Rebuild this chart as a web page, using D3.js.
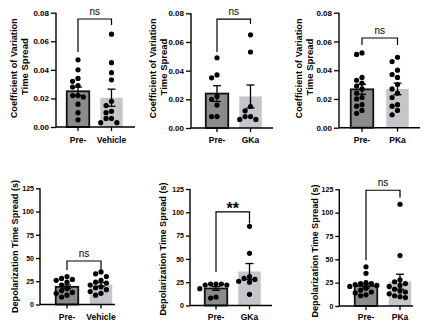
<!DOCTYPE html>
<html><head><meta charset="utf-8">
<script src="https://cdn.jsdelivr.net/npm/d3@7"></script>
<style>
html,body{margin:0;padding:0;background:#fff;}
svg{display:block;font-family:"Liberation Sans",Arial,sans-serif;}
</style></head>
<body><svg id="c" width="424" height="328"></svg>
<script>
// ---------- data ----------
const categories = [["Pre-","Vehicle"],["Pre-","GKa"],["Pre-","PKa"],["Pre-","Vehicle"],["Pre-","GKa"],["Pre-","PKa"]];
const cvTicks = [0, 0.02, 0.04, 0.06, 0.08];
const depTicks = [0, 25, 50, 75, 100, 125];
const cvTitle = ["Coefficient of Variation", "Time Spread"];
const depTitle = ["Depolarization Time Spread (s)"];

const cvPreA = [0.047, 0.040, 0.034, 0.032, 0.029, 0.028, 0.022, 0.022, 0.021, 0.016, 0.010, 0.005];
const cvVehicle = [0.065, 0.045, 0.038, 0.033, 0.018, 0.015, 0.011, 0.010, 0.006, 0.006, 0.003, 0.003];
const cvPreB = [0.049, 0.037, 0.035, 0.022, 0.020, 0.016, 0.008, 0.008];
const cvGKa = [0.065, 0.053, 0.015, 0.012, 0.008, 0.008, 0.006, 0.006];
const cvPreC = [0.052, 0.051, 0.035, 0.033, 0.031, 0.029, 0.027, 0.024, 0.021, 0.020, 0.016, 0.015, 0.012, 0.010];
const cvPKa = [0.049, 0.046, 0.040, 0.037, 0.035, 0.030, 0.027, 0.024, 0.021, 0.016, 0.015, 0.012, 0.009];

const depPreA = [30, 28, 27, 26, 24, 21, 17, 15, 13, 12, 10, 8];
const depVehicle = [35, 33, 30, 26, 24, 23, 21, 19, 18, 16, 14, 12, 10];
const depPreB = [23, 23, 23, 22, 22, 18, 9, 8];
const depGKa = [85, 56, 31, 29, 28, 26, 25, 12];
const depPreC = [42, 35, 25, 24, 24, 23, 22, 21, 19, 17, 15, 14, 12, 11];
const depPKa = [109, 54, 28, 26, 24, 22, 21, 18, 16, 15, 13, 11, 10, 9];

const barMeans = [[0.025, 0.0205], [0.024, 0.022], [0.0267, 0.027], [19, 21.5], [18.3, 36.5], [21.5, 26]];
const barSEM = [[0.003, 0.006], [0.0055, 0.008], [0.0035, 0.004], [2, 2], [2, 8.5], [2.2, 8]];
const sigLabels = ["ns", "ns", "ns", "ns", "**", "ns"];
const bracketTop = [0.0756, 0.076, 0.0624, 46.8, 100.5, 124];
const bracketLegEnd = [[0.0525, 0.0714], [0.053, 0.0725], [0.0575, 0.0575], [37, 37], [36, 88], [49, 116]];

const points = [[cvPreA, cvVehicle], [cvPreB, cvGKa], [cvPreC, cvPKa], [depPreA, depVehicle], [depPreB, depGKa], [depPreC, depPKa]];

// ---------- layout ----------
const layout = [
  {ax: 56, xEnd: 135, yTop: 12.7, yBot: 127, c: [78, 111.5], titleX: [16.7, 27.5], titleY: [68.3, 66.7], catY: 143},
  {ax: 191, xEnd: 273, yTop: 13.3, yBot: 128, c: [217, 250.5], titleX: [156, 167], titleY: [68.5, 67], catY: 143},
  {ax: 339, xEnd: 420, yTop: 12.7, yBot: 127.7, c: [362, 397.5], titleX: [301.5, 312.5], titleY: [68.5, 67], catY: 143},
  {ax: 40, xEnd: 115, yTop: 188.3, yBot: 304.5, c: [67, 101], titleX: [18], titleY: [246.5], catY: 320},
  {ax: 190, xEnd: 272, yTop: 189, yBot: 305.5, c: [216, 249.5], titleX: [166], titleY: [249], catY: 320},
  {ax: 339.3, xEnd: 413, yTop: 189.3, yBot: 306, c: [366, 400], titleX: [318], titleY: [251], catY: 320}
];
const barW = 22.5;
const fills = ["#8b8b8b", "#c6c6ca"];
const R = 2.6;

const svg = d3.select("#c");

function dodge(vals, y, cx) {
  const placed = [];
  const step = 5.4, minD = 5.3;
  [...vals].sort((a, b) => b - a).forEach(v => {
    const py = y(v);
    let off = 0;
    for (let k = 0; k < 30; k++) {
      const o = k === 0 ? 0 : (k % 2 ? -Math.ceil(k / 2) * step : Math.ceil(k / 2) * step);
      if (placed.every(p => Math.hypot(p.x - (cx + o), p.y - py) >= minD)) { off = o; break; }
    }
    placed.push({x: cx + off, y: py});
  });
  return placed;
}

layout.forEach((L, i) => {
  const isCV = i < 3;
  const ticks = isCV ? cvTicks : depTicks;
  const y = d3.scaleLinear().domain([0, ticks[ticks.length - 1]]).range([L.yBot, L.yTop]);
  const x = d3.scalePoint().domain(categories[i]).range(L.c);
  const g = svg.append("g");

  // bars
  categories[i].forEach((cat, j) => {
    const m = barMeans[i][j];
    g.append("rect")
      .attr("x", x(cat) - barW / 2).attr("width", barW)
      .attr("y", y(m)).attr("height", y(0) - y(m))
      .attr("fill", fills[j])
      .attr("stroke", j === 0 ? "#111" : "none")
      .attr("stroke-width", j === 0 ? 1.8 : 0);
  });

  // points
  categories[i].forEach((cat, j) => {
    const pts = dodge(points[i][j], y, x(cat));
    g.selectAll(null).data(pts).enter().append("circle")
      .attr("cx", d => d.x).attr("cy", d => d.y).attr("r", R).attr("fill", "#000");
  });

  // error bars
  categories[i].forEach((cat, j) => {
    const m = barMeans[i][j], s = barSEM[i][j], cx = x(cat);
    const eg = g.append("g").attr("stroke", "#000").attr("stroke-width", 1.3).attr("fill", "none");
    eg.append("line").attr("x1", cx).attr("x2", cx).attr("y1", y(m + s)).attr("y2", y(m - s));
    eg.append("line").attr("x1", cx - 4).attr("x2", cx + 4).attr("y1", y(m + s)).attr("y2", y(m + s));
    eg.append("line").attr("x1", cx - 4).attr("x2", cx + 4).attr("y1", y(m - s)).attr("y2", y(m - s));
  });

  // y axis
  const yAxis = d3.axisLeft(y).tickValues(ticks).tickSize(isCV ? 5 : 4).tickPadding(2)
    .tickFormat(isCV ? d3.format(".2f") : d3.format("d"));
  const ya = g.append("g").attr("transform", `translate(${L.ax},0)`).call(yAxis);
  ya.select(".domain").attr("d", `M0,${L.yTop}V${L.yBot}`).attr("stroke-width", 1.4);
  ya.selectAll(".tick line").attr("stroke-width", 1.3);
  ya.selectAll("text").attr("font-size", isCV ? 8 : 7).attr("font-weight", "bold").attr("fill", "#000")
    .attr("font-family", "'Liberation Sans',Arial,sans-serif");

  // x axis line and ticks
  g.append("line").attr("x1", L.ax).attr("x2", L.xEnd).attr("y1", L.yBot).attr("y2", L.yBot)
    .attr("stroke", "#000").attr("stroke-width", 1.4);
  categories[i].forEach(cat => {
    g.append("line").attr("x1", x(cat)).attr("x2", x(cat)).attr("y1", L.yBot).attr("y2", L.yBot + 4)
      .attr("stroke", "#000").attr("stroke-width", 1.3);
    g.append("text").attr("x", x(cat)).attr("y", L.catY).attr("text-anchor", "middle")
      .attr("font-size", 8.5).attr("font-weight", "bold").text(cat);
  });

  // y title
  const title = isCV ? cvTitle : depTitle;
  title.forEach((t, k) => {
    const tx = g.append("text").attr("transform", `translate(${L.titleX[k]},${L.titleY[k]}) rotate(-90)`)
      .attr("text-anchor", "middle").attr("font-size", 9.5).attr("font-weight", "bold").text(t);
    if (isCV && k === 0) tx.attr("textLength", 100).attr("lengthAdjust", "spacingAndGlyphs");
    if (!isCV) tx.attr("textLength", 133).attr("lengthAdjust", "spacingAndGlyphs");
  });

  // significance bracket
  const x1 = x(categories[i][0]), x2 = x(categories[i][1]);
  const yt = y(bracketTop[i]);
  g.append("path")
    .attr("d", `M${x1},${y(bracketLegEnd[i][0])}V${yt}H${x2}V${y(bracketLegEnd[i][1])}`)
    .attr("fill", "none").attr("stroke", "#000").attr("stroke-width", 1.2);
  const star = sigLabels[i] !== "ns";
  g.append("text").attr("x", (x1 + x2) / 2).attr("y", star ? yt + 2 : yt - 4)
    .attr("text-anchor", "middle")
    .attr("font-size", star ? 16 : 10).attr("font-weight", star ? "bold" : "normal")
    .text(sigLabels[i]);
});
</script></body></html>
